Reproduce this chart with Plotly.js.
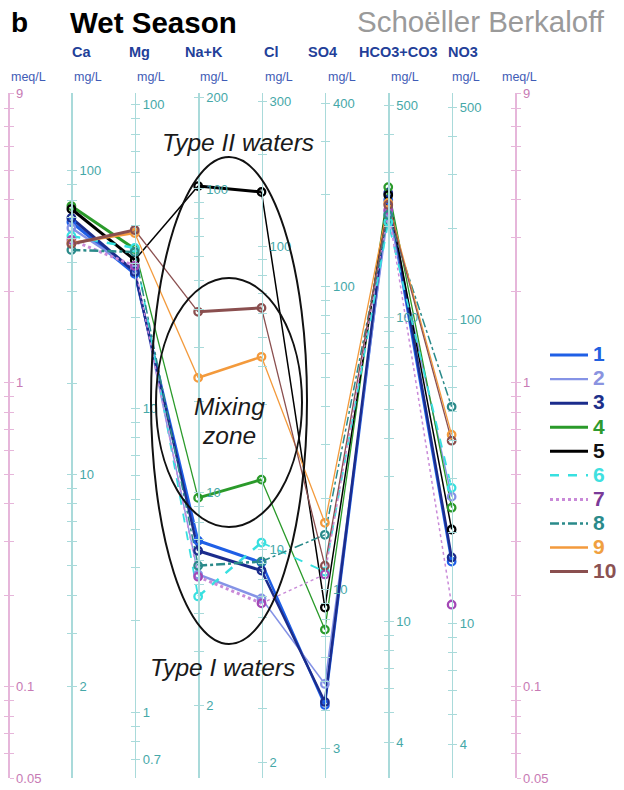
<!DOCTYPE html>
<html>
<head>
<meta charset="utf-8">
<script src="https://cdn.plot.ly/plotly-3.0.1.min.js"></script>
<style>html,body{margin:0;padding:0;background:#fff;}#chart{width:624px;height:790px;}</style>
</head>
<body>
<div id="chart"></div>
<script>
// ---------- DATA (meq/L) ----------
const ions = ['Ca', 'Mg', 'Na+K', 'Cl', 'SO4', 'HCO3+CO3', 'NO3'];
const eqWeights = [20.04, 12.15, 23.0, 35.45, 48.03, 61.02, 62.0];
const seriesNames = ['1', '2', '3', '4', '5', '6', '7', '8', '9', '10'];
//                 Ca     Mg     Na+K   Cl     SO4    HCO3   NO3
const sample1  = [3.385, 2.284, 0.302, 0.256, 0.087, 4.00, 0.258];
const sample2  = [3.235, 2.353, 0.234, 0.195, 0.102, 3.65, 0.422];
const sample3  = [3.49,  2.318, 0.280, 0.241, 0.089, 4.22, 0.266];
const sample4  = [3.82,  2.759, 0.418, 0.480, 0.154, 4.41, 0.388];
const sample5  = [3.735, 2.539, 4.446, 4.249, 0.182, 4.15, 0.329];
const sample6  = [3.045, 2.780, 0.198, 0.298, 0.239, 3.385, 0.451];
const sample7  = [2.953, 2.426, 0.230, 0.188, 0.234, 3.71, 0.186];
const sample8  = [2.738, 2.697, 0.250, 0.258, 0.316, 3.57, 0.834];
const sample9  = [2.887, 3.114, 1.039, 1.218, 0.346, 3.91, 0.675];
const sample10 = [2.866, 3.186, 1.713, 1.765, 0.250, 3.85, 0.645];
const samples = [sample1, sample2, sample3, sample4, sample5, sample6, sample7, sample8, sample9, sample10];

// tick labels
const meqLabels = [9, 1, 0.1, 0.05];
const caLabels = [100, 10, 2];
const mgLabels = [100, 10, 1, 0.7];
const naLabels = [200, 100, 10, 2];
const clLabels = [300, 100, 10, 2];
const so4Labels = [400, 100, 10, 3];
const hco3Labels = [500, 100, 10, 4];
const no3Labels = [500, 100, 10, 4];
const ionLabels = [caLabels, mgLabels, naLabels, clLabels, so4Labels, hco3Labels, no3Labels];
const meqMin = 0.05, meqMax = 9;

// ---------- STYLE ----------
const lineColors = ['#1f5fe6', '#8593e6', '#1b2c8c', '#2a9a2a', '#000000', '#38e0e0', '#c98ad8', '#2a8a8a', '#f39a3c', '#8a4f4f'];
const markColors = ['#1f5fe6', '#8593e6', '#1b2c8c', '#2a9a2a', '#000000', '#38e0e0', '#a347b5', '#2a8a8a', '#f39a3c', '#8a4f4f'];
const textColors = ['#2160e0', '#8a93e0', '#1c2f8a', '#2e9a2e', '#111111', '#40e0e0', '#7a3a98', '#2a8a8a', '#f0a040', '#8b5252'];
const dashes = ['solid', 'solid', 'solid', 'solid', 'solid', 'dash', 'dot', 'dashdot', 'solid', 'solid'];
const thickW = [3, 2.4, 3, 3, 3, 2.5, 3, 2.5, 2.5, 3];
const thinW  = [2.5, 1.5, 2.5, 1.3, 1.5, 1.8, 1.5, 1.5, 1.3, 1.3];

const ionAxisColor = '#a9dada', ionTickColor = '#45a8a8';
const meqAxisColor = '#e6b6da', meqTickColor = '#c77ab4';
const FONT = 'Liberation Sans, Arial, sans-serif';

const L = 8, R = 515, T = 93, B = 778;
const PX = p => (p - L) / (R - L);
const PY = p => (B - p) / (B - T);

// ---------- TRACES ----------
const traces = [];
samples.forEach((s, i) => {
  traces.push({
    x: [1, 2, null, 3, 4], y: [s[0], s[1], null, s[2], s[3]],
    mode: 'lines',
    name: '<b><span style="color:' + textColors[i] + ';font-size:21px">' + seriesNames[i] + '</span></b>',
    legendgroup: 'g' + i, showlegend: true,
    line: {color: lineColors[i], width: thickW[i], dash: dashes[i]}, hoverinfo: 'skip'
  });
});
samples.forEach((s, i) => {
  traces.push({
    x: [2, 3, null, 4, 5, 6, 7], y: [s[1], s[2], null, s[3], s[4], s[5], s[6]],
    mode: 'lines', legendgroup: 'g' + i, showlegend: false,
    line: {color: lineColors[i], width: thinW[i], dash: dashes[i]}, hoverinfo: 'skip'
  });
});
samples.forEach((s, i) => {
  traces.push({
    x: [1, 2, 3, 4, 5, 6, 7], y: s, mode: 'markers', legendgroup: 'g' + i, showlegend: false,
    marker: {symbol: 'circle-open', size: 7.5, color: markColors[i], line: {width: 2.3, color: markColors[i]}},
    hoverinfo: 'skip'
  });
});

// ---------- AXES ----------
function tickSet(lo, hi, labels) {
  const vals = [], txt = [];
  for (let k = -3; k <= 4; k++) {
    for (let d = 1; d <= 9; d++) {
      const v = +(d * Math.pow(10, k)).toPrecision(6);
      if (v >= lo * 0.999 && v <= hi * 1.001) {
        vals.push(v);
        txt.push(labels.some(l => Math.abs(l - v) / v < 1e-6) ? String(v) : '');
      }
    }
  }
  labels.forEach(l => { if (!vals.some(v => Math.abs(l - v) / v < 1e-6)) { vals.push(l); txt.push(String(l)); } });
  return {vals, txt};
}

const layout = {
  width: 624, height: 790,
  margin: {l: L, r: 624 - R, t: T, b: 790 - B, pad: 0, autoexpand: false},
  paper_bgcolor: '#ffffff', plot_bgcolor: 'rgba(0,0,0,0)',
  font: {family: FONT},
  showlegend: true,
  legend: {
    x: PX(545), y: PY(338), xanchor: 'left', yanchor: 'top',
    font: {family: FONT, size: 16.2, color: '#000'}, bgcolor: 'rgba(0,0,0,0)',
    itemwidth: 38, tracegroupgap: 0, traceorder: 'normal'
  },
  xaxis: {range: [0, 8], visible: false, fixedrange: true, domain: [0, 1]},
  yaxis: {type: 'log', range: [Math.log10(meqMin), Math.log10(meqMax)], visible: false, fixedrange: true},
  shapes: [], annotations: []
};

const axisDefs = [];
axisDefs.push({pos: 0, w: 1, labels: meqLabels, meq: true});
ionLabels.forEach((lab, i) => axisDefs.push({pos: i + 1, w: eqWeights[i], labels: lab, meq: false}));
axisDefs.push({pos: 8, w: 1, labels: meqLabels, meq: true});

axisDefs.forEach((a, j) => {
  const lo = meqMin * a.w, hi = meqMax * a.w;
  const t = tickSet(lo, hi, a.labels);
  const col = a.meq ? meqAxisColor : ionAxisColor;
  const base = {
    type: 'log', range: [Math.log10(lo), Math.log10(hi)], overlaying: 'y', anchor: 'free',
    position: a.pos / 8, side: 'right', showgrid: false, zeroline: false, fixedrange: true,
    tickmode: 'array', tickvals: t.vals, automargin: false
  };
  layout['yaxis' + (j + 2)] = Object.assign({}, base, {
    ticktext: t.txt, ticks: 'outside', ticklen: 4, tickwidth: 1, tickcolor: col,
    showline: true, linecolor: col, linewidth: 1.5,
    tickfont: {family: FONT, size: 13, color: a.meq ? meqTickColor : ionTickColor}
  });
  layout['yaxis' + (j + 11)] = Object.assign({}, base, {
    ticktext: t.vals.map(() => ''), ticks: 'inside', ticklen: 4, tickwidth: 1, tickcolor: col,
    showline: false, showticklabels: false
  });
});

// invisible traces binding the axes so they render
for (let j = 0; j < 18; j++) {
  traces.push({x: [null], y: [null], yaxis: 'y' + (j + 2), showlegend: false, hoverinfo: 'skip', mode: 'markers'});
}

// ---------- ELLIPSES ----------
layout.shapes.push({type: 'circle', xref: 'paper', yref: 'paper', x0: PX(151), x1: PX(307), y0: PY(644), y1: PY(157),
  line: {color: '#111', width: 2}, layer: 'above'});
layout.shapes.push({type: 'circle', xref: 'paper', yref: 'paper', x0: PX(156), x1: PX(302), y0: PY(527), y1: PY(278),
  line: {color: '#111', width: 2}, layer: 'above'});

// ---------- TEXT ----------
function ann(text, px, py, opts) {
  layout.annotations.push(Object.assign({
    text: text, xref: 'paper', yref: 'paper', x: PX(px), y: PY(py), xanchor: 'left', yanchor: 'middle',
    showarrow: false, font: {family: FONT, size: 12, color: '#000'}
  }, opts || {}));
}
ann('<b>b</b>', 9, 23, {font: {family: FONT, size: 28, color: '#000'}});
ann('<b>Wet Season</b>', 68, 23, {font: {family: FONT, size: 29.5, color: '#000'}});
ann('Schoëller Berkaloff', 355, 21, {font: {family: FONT, size: 29.5, color: '#9a9a9a'}});

const headerX = [70, 127, 183, 262, 306, 357, 446];
const headerTxt = ['Ca', 'Mg', 'Na+K', 'Cl', 'SO4', 'HCO3+CO3', 'NO3'];
headerTxt.forEach((h, i) => ann('<b>' + h + '</b>', headerX[i], 52, {font: {family: FONT, size: 14.5, color: '#233f99'}}));

const unitX = [28, 88, 151, 214, 279, 342, 405, 466, 519];
unitX.forEach((x, i) => ann((i === 0 || i === 8) ? 'meq/L' : 'mg/L', x, 77,
  {xanchor: 'center', font: {family: FONT, size: 12.5, color: '#3f5cb6'}}));

const itFont = {family: FONT, size: 24.5, color: '#1a1a1a'};
ann('<i>Type II waters</i>', 238, 142, {xanchor: 'center', font: itFont});
ann('<i>Mixing</i>', 229, 406, {xanchor: 'center', font: itFont});
ann('<i>zone</i>', 229, 435, {xanchor: 'center', font: itFont});
ann('<i>Type I waters</i>', 222, 667, {xanchor: 'center', font: itFont});

Plotly.newPlot('chart', traces, layout, {staticPlot: true, displayModeBar: false});
</script>
</body>
</html>
